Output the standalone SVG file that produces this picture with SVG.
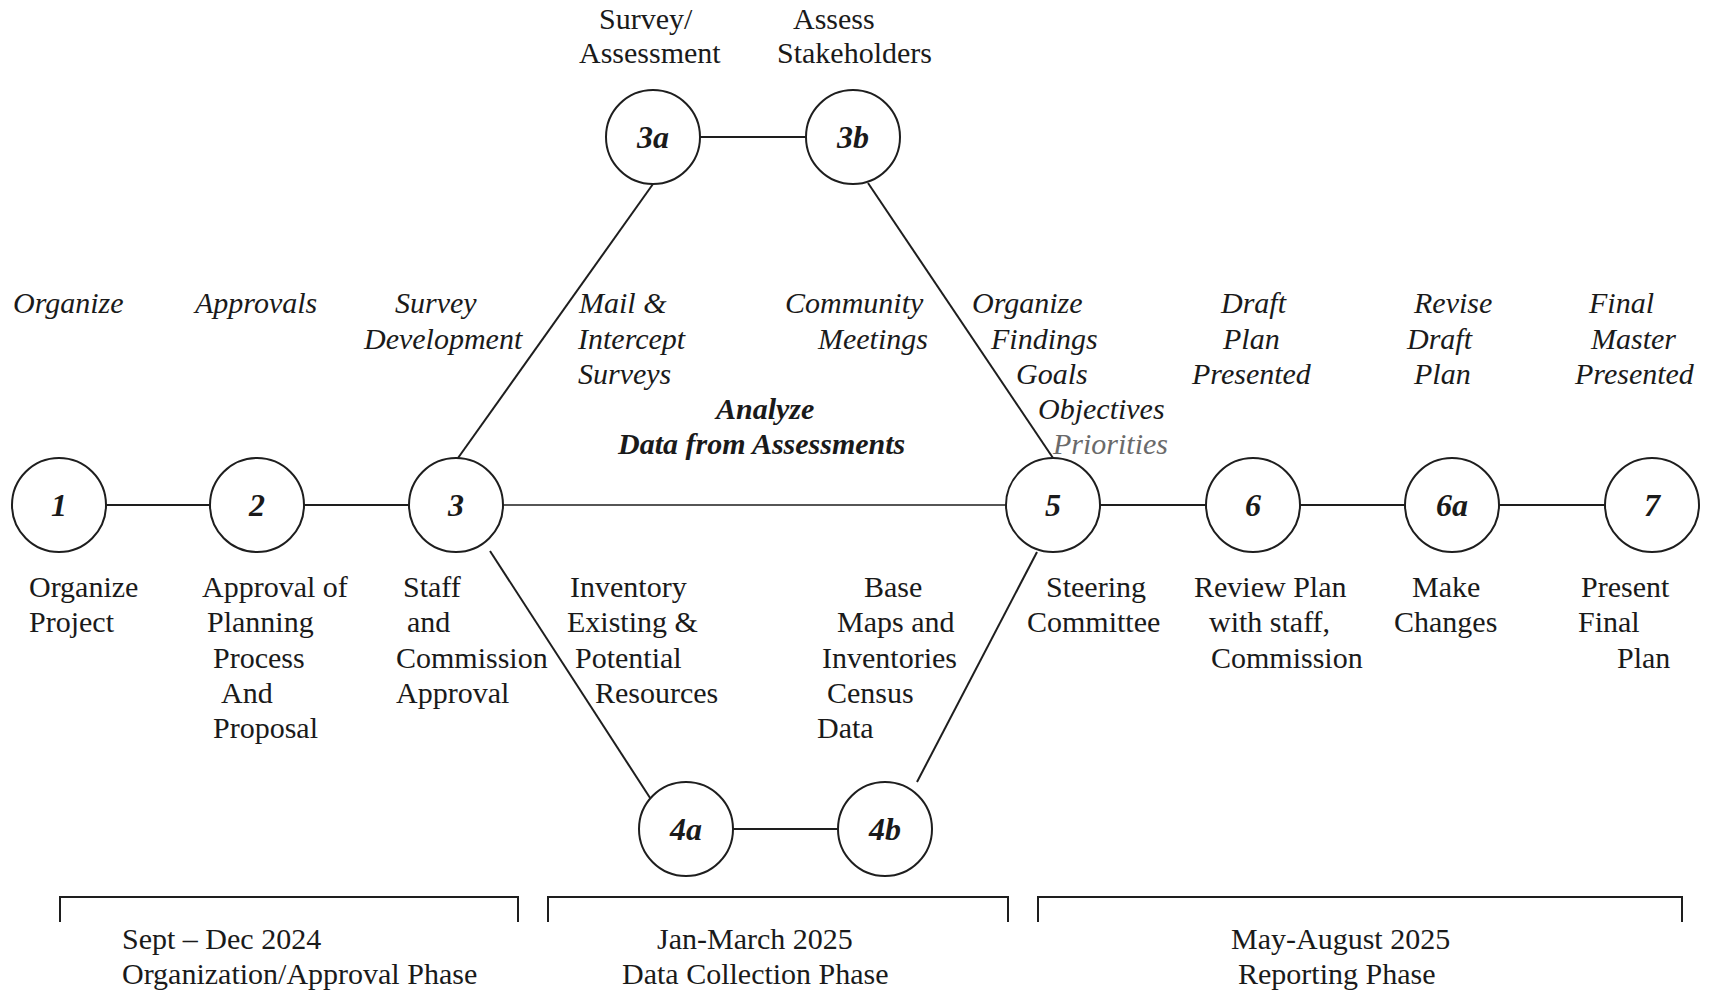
<svg xmlns="http://www.w3.org/2000/svg" width="1711" height="992" viewBox="0 0 1711 992">
<style>
  .node circle { fill: #fff; stroke: #1e1e1e; stroke-width: 2; }
  .num { font-family: "Liberation Serif", "Times New Roman", serif; font-size: 32px; font-weight: bold; font-style: italic; fill: #1a1a1a; text-anchor: middle; }
  .it { font-family: "Liberation Serif", "Times New Roman", serif; font-size: 30px; font-style: italic; fill: #1a1a1a; }
  .bi { font-family: "Liberation Serif", "Times New Roman", serif; font-size: 30px; font-style: italic; font-weight: bold; fill: #1a1a1a; }
  .rg { font-family: "Liberation Serif", "Times New Roman", serif; font-size: 30px; fill: #1a1a1a; }
  .gray { fill: #6a6a6a; }
  .conn line, .conn path { stroke: #1e1e1e; stroke-width: 2; fill: none; }
</style>
<rect width="1711" height="992" fill="#fff"/>

<g id="connectors" class="conn">
  <line x1="106" y1="505" x2="210" y2="505"/>
  <line x1="304" y1="505" x2="409" y2="505"/>
  <line x1="503" y1="505" x2="1006" y2="505" style="stroke-width:1.6"/>
  <line x1="1100" y1="505" x2="1206" y2="505"/>
  <line x1="1300" y1="505" x2="1405" y2="505"/>
  <line x1="1499" y1="505" x2="1605" y2="505"/>
  <line x1="700" y1="137" x2="806" y2="137"/>
  <line x1="733" y1="829" x2="838" y2="829"/>
  <line x1="458" y1="458" x2="653" y2="184"/>
  <line x1="868" y1="183" x2="1053" y2="458"/>
  <line x1="490" y1="551" x2="654" y2="804"/>
  <line x1="917" y1="782" x2="1037" y2="552"/>
  <path d="M60,922 V897 H518 V922"/>
  <path d="M548,922 V897 H1008 V922"/>
  <path d="M1038,922 V897 H1682 V922"/>
</g>

<g id="n1" class="node"><circle cx="59" cy="505" r="47"/><text class="num" x="59" y="516">1</text></g>
<g id="n2" class="node"><circle cx="257" cy="505" r="47"/><text class="num" x="257" y="516">2</text></g>
<g id="n3" class="node"><circle cx="456" cy="505" r="47"/><text class="num" x="456" y="516">3</text></g>
<g id="n3a" class="node"><circle cx="653" cy="137" r="47"/><text class="num" x="653" y="148">3a</text></g>
<g id="n3b" class="node"><circle cx="853" cy="137" r="47"/><text class="num" x="853" y="148">3b</text></g>
<g id="n4a" class="node"><circle cx="686" cy="829" r="47"/><text class="num" x="686" y="840">4a</text></g>
<g id="n4b" class="node"><circle cx="885" cy="829" r="47"/><text class="num" x="885" y="840">4b</text></g>
<g id="n5" class="node"><circle cx="1053" cy="505" r="47"/><text class="num" x="1053" y="516">5</text></g>
<g id="n6" class="node"><circle cx="1253" cy="505" r="47"/><text class="num" x="1253" y="516">6</text></g>
<g id="n6a" class="node"><circle cx="1452" cy="505" r="47"/><text class="num" x="1452" y="516">6a</text></g>
<g id="n7" class="node"><circle cx="1652" cy="505" r="47"/><text class="num" x="1652" y="516">7</text></g>

<g id="labels-top">
  <text class="rg" x="599" y="29">Survey/</text>
  <text class="rg" x="579" y="63">Assessment</text>
  <text class="rg" x="793" y="29">Assess</text>
  <text class="rg" x="777" y="63">Stakeholders</text>
</g>

<g id="labels-italic">
  <text class="it" x="13" y="313">Organize</text>
  <text class="it" x="195" y="313">Approvals</text>
  <text class="it" x="395" y="313">Survey</text>
  <text class="it" x="364" y="349">Development</text>
  <text class="it" x="579" y="313">Mail &amp;</text>
  <text class="it" x="578" y="349">Intercept</text>
  <text class="it" x="578" y="384">Surveys</text>
  <text class="it" x="785" y="313">Community</text>
  <text class="it" x="818" y="349">Meetings</text>
  <text class="it" x="972" y="313">Organize</text>
  <text class="it" x="991" y="349">Findings</text>
  <text class="it" x="1016" y="384">Goals</text>
  <text class="it" x="1038" y="419">Objectives</text>
  <text class="it gray" x="1053" y="454">Priorities</text>
  <text class="bi" x="716" y="419">Analyze</text>
  <text class="bi" x="618" y="454">Data from Assessments</text>
  <text class="it" x="1221" y="313">Draft</text>
  <text class="it" x="1223" y="349">Plan</text>
  <text class="it" x="1192" y="384">Presented</text>
  <text class="it" x="1414" y="313">Revise</text>
  <text class="it" x="1407" y="349">Draft</text>
  <text class="it" x="1414" y="384">Plan</text>
  <text class="it" x="1589" y="313">Final</text>
  <text class="it" x="1591" y="349">Master</text>
  <text class="it" x="1575" y="384">Presented</text>
</g>

<g id="labels-bottom">
  <text class="rg" x="29" y="597">Organize</text>
  <text class="rg" x="29" y="632">Project</text>
  <text class="rg" x="202" y="597">Approval of</text>
  <text class="rg" x="207" y="632">Planning</text>
  <text class="rg" x="213" y="668">Process</text>
  <text class="rg" x="221" y="703">And</text>
  <text class="rg" x="213" y="738">Proposal</text>
  <text class="rg" x="403" y="597">Staff</text>
  <text class="rg" x="407" y="632">and</text>
  <text class="rg" x="396" y="668">Commission</text>
  <text class="rg" x="396" y="703">Approval</text>
  <text class="rg" x="570" y="597">Inventory</text>
  <text class="rg" x="567" y="632">Existing &amp;</text>
  <text class="rg" x="575" y="668">Potential</text>
  <text class="rg" x="595" y="703">Resources</text>
  <text class="rg" x="864" y="597">Base</text>
  <text class="rg" x="837" y="632">Maps and</text>
  <text class="rg" x="822" y="668">Inventories</text>
  <text class="rg" x="827" y="703">Census</text>
  <text class="rg" x="817" y="738">Data</text>
  <text class="rg" x="1046" y="597">Steering</text>
  <text class="rg" x="1027" y="632">Committee</text>
  <text class="rg" x="1194" y="597">Review Plan</text>
  <text class="rg" x="1209" y="632">with staff,</text>
  <text class="rg" x="1211" y="668">Commission</text>
  <text class="rg" x="1412" y="597">Make</text>
  <text class="rg" x="1394" y="632">Changes</text>
  <text class="rg" x="1581" y="597">Present</text>
  <text class="rg" x="1578" y="632">Final</text>
  <text class="rg" x="1617" y="668">Plan</text>
</g>

<g id="phases">
  <text class="rg" x="122" y="949">Sept – Dec 2024</text>
  <text class="rg" x="122" y="984">Organization/Approval Phase</text>
  <text class="rg" x="657" y="949">Jan-March 2025</text>
  <text class="rg" x="622" y="984">Data Collection Phase</text>
  <text class="rg" x="1231" y="949">May-August 2025</text>
  <text class="rg" x="1238" y="984">Reporting Phase</text>
</g>
</svg>
